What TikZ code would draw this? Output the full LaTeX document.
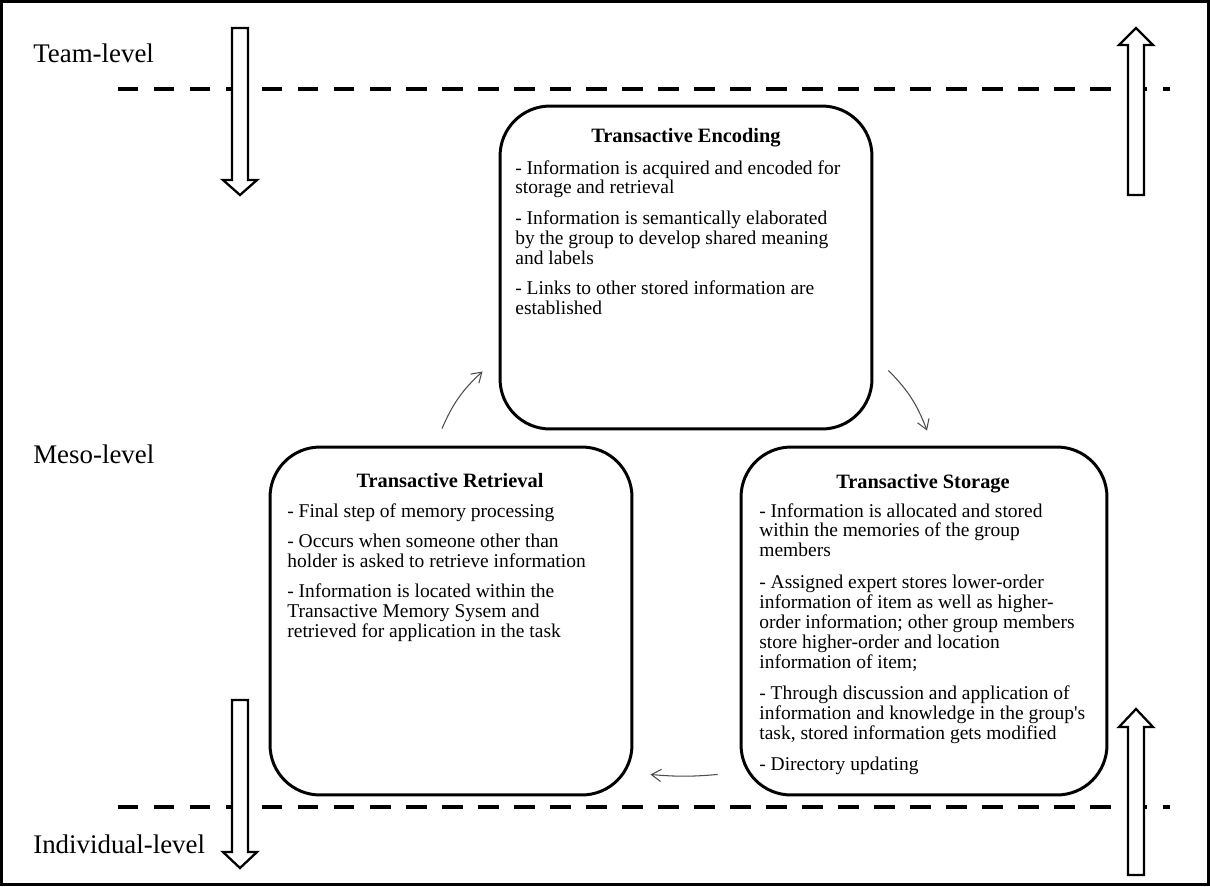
\documentclass[tikz,border=0pt]{standalone}
\usepackage{fontspec}
\setmainfont{Liberation Serif}
\usetikzlibrary{arrows.meta,calc}
\begin{document}
\begin{tikzpicture}[x=0.02cm,y=-0.02cm,
  phasebox/.style={draw,line width=1.7pt,rounded corners=1cm,inner sep=0pt},
  phasetitle/.style={font=\fontsize{11.6pt}{12pt}\selectfont\bfseries,anchor=base,inner sep=0pt},
  phasebody/.style={font=\fontsize{11.1pt}{11.34pt}\selectfont,anchor=base west,inner sep=0pt},
  levellabel/.style={font=\fontsize{15.3pt}{18pt}\selectfont,anchor=base west,inner sep=0pt},
  boundary/.style={line width=2.3pt,dash pattern=on 11.6pt off 8.9pt},
  blockarrow/.style={draw,fill=white,line width=1.3pt,line join=miter},
  flow/.style={line width=0.6pt,draw=black!70,-{Straight Barb[length=5.5pt,width=7pt]}}
]
\useasboundingbox (0,0) rectangle (1210,886);
\draw[line width=1.2pt] (1.5,1.5) rectangle (1208.5,884.5);

% level boundaries
\draw[boundary] (118,89) -- (1170,89);
\draw[boundary] (118,807) -- (1170,807);

% level labels
\node[levellabel] (team) at (33,62) {Team-level};
\node[levellabel] (meso) at (33,463) {Meso-level};
\node[levellabel] (indiv) at (33,853) {Individual-level};

% downward and upward block arrows
\draw[blockarrow] (232,28) -- (248,28) -- (248,180) -- (257,180) -- (240,195) -- (223,180) -- (232,180) -- cycle;
\draw[blockarrow] (232,700) -- (248,700) -- (248,852) -- (257,852) -- (240,868) -- (223,852) -- (232,852) -- cycle;
\draw[blockarrow] (1128,195) -- (1144,195) -- (1144,45) -- (1153,45) -- (1136,28) -- (1119,45) -- (1128,45) -- cycle;
\draw[blockarrow] (1128,875) -- (1144,875) -- (1144,727) -- (1153,727) -- (1136,709) -- (1119,727) -- (1128,727) -- cycle;

% the three phases
\node[phasebox,minimum width=7.44cm,minimum height=6.46cm] (enc) at (686,267.5) {};
\node[phasebox,minimum width=7.24cm,minimum height=6.96cm] (ret) at (451,621) {};
\node[phasebox,minimum width=7.32cm,minimum height=6.96cm] (sto) at (924,621) {};

\node[phasetitle] (enctitle) at (686,142) {Transactive Encoding};
\node[phasebody] (encbody) at (515,174) {\parbox[t]{7cm}{\raggedright
- Information is acquired and encoded for\\
storage and retrieval\\[6pt]
- Information is semantically elaborated\\
by the group to develop shared meaning\\
and labels\\[6pt]
- Links to other stored information are\\
established}};

\node[phasetitle] (rettitle) at (450,487) {Transactive Retrieval};
\node[phasebody] (retbody) at (287,517) {\parbox[t]{7cm}{\raggedright
- Final step of memory processing\\[6pt]
- Occurs when someone other than\\
holder is asked to retrieve information\\[6pt]
- Information is located within the\\
Transactive Memory Sysem and\\
retrieved for application in the task}};

\node[phasetitle] (stotitle) at (923,488) {Transactive Storage};
\node[phasebody] (stobody) at (759,517) {\parbox[t]{7cm}{\raggedright
- Information is allocated and stored\\
within the memories of the group\\
members\\[6.6pt]
- Assigned expert stores lower-order\\
information of item as well as higher-\\
order information; other group members\\
store higher-order and location\\
information of item;\\[6.6pt]
- Through discussion and application of\\
information and knowledge in the group\textquotesingle s\\
task, stored information gets modified\\[6.6pt]
- Directory updating}};

% cycle between the phases
\draw[flow] ([xshift=-0.18cm,yshift=0.34cm]ret.north) to[bend left=12] ([xshift=-0.32cm,yshift=1.18cm]enc.south west);
\draw[flow] ([xshift=0.3cm,yshift=1.2cm]enc.south east) to[bend left=12] ([xshift=0.06cm,yshift=0.3cm]sto.north);
\draw[flow] ([xshift=-0.44cm,yshift=0.44cm]sto.south west) to[bend left=5] ([xshift=0.34cm,yshift=0.44cm]ret.south east);
\end{tikzpicture}
\end{document}
